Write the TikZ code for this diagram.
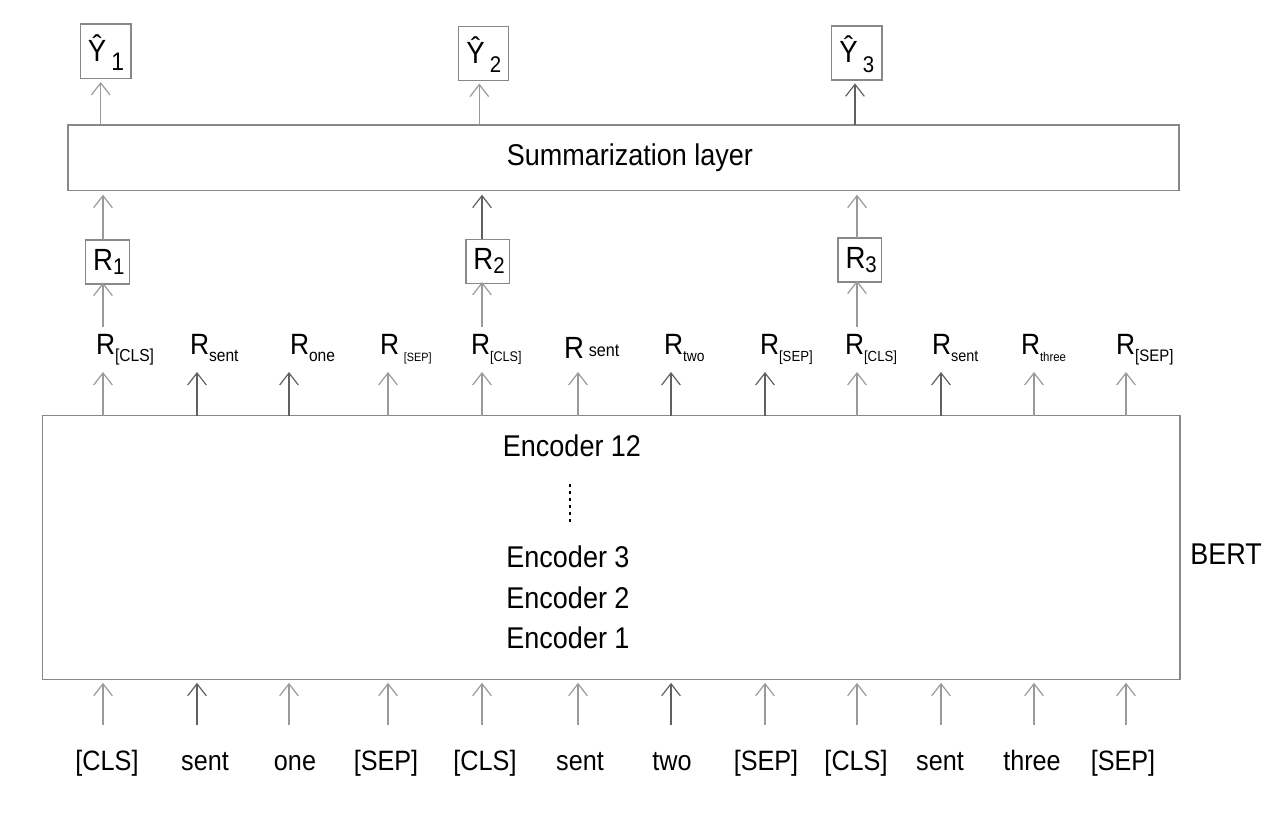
\documentclass[tikz,border=0pt]{standalone}
\usepackage{fontspec}
\setmainfont{Liberation Sans}[FakeStretch=0.9]
\usetikzlibrary{arrows.meta,fit}
\definecolor{lg}{HTML}{9A9A9A}
\definecolor{dg}{HTML}{606060}
\definecolor{bx}{HTML}{888888}
\newcommand\Sb[2]{\raisebox{-5.5pt}{\fontsize{#2}{#2}\selectfont #1}}
\begin{document}
\begin{tikzpicture}[x=0.75pt,y=-0.75pt,
  every node/.style={inner sep=0pt,outer sep=0pt,font=\fontsize{21}{24}\selectfont},
  box/.style={draw=bx,line width=1.1pt,fill=none},
  big/.style={font=\fontsize{22.5}{26}\selectfont},
  yt/.style={font=\fontsize{23}{26}\selectfont},
  arr/.style={draw=lg,line width=0.9pt,-{Straight Barb[length=9pt,width=14pt]}},
  arrd/.style={arr,draw=dg},
  rl/.style={anchor=base west,font=\fontsize{22}{24}\selectfont},
  tok/.style={anchor=base}]
\useasboundingbox (0,0) rectangle (1288,822);

% boxes
\node[box,fit={(68,125) (1179,190.7)}] (summ) {};
\node[big] (summt) at (630,158) {Summarization layer};
\node[box,fit={(42.3,415.7) (1180,679.5)}] (bert) {};
\node[box,fit={(80.7,24) (131,78.7)}] (y1) {};
\node[box,fit={(458.7,26.7) (508.7,80.3)}] (y2) {};
\node[box,fit={(831.7,26) (882,80)}] (y3) {};
\node[yt] (y1t) at ([yshift=-1pt]y1.center) {\^{Y}\,\raisebox{-7pt}{\fontsize{19}{19}\selectfont 1}};
\node[yt] (y2t) at ([yshift=-1pt]y2.center) {\^{Y}\,\raisebox{-7pt}{\fontsize{17}{17}\selectfont 2}};
\node[yt] (y3t) at ([yshift=-1pt]y3.center) {\^{Y}\,\raisebox{-7pt}{\fontsize{17}{17}\selectfont 3}};
\node[box,fit={(85.7,240) (129.3,284)}] (rb1) {};
\node[box,fit={(466,239.3) (509.3,283.3)}] (rb2) {};
\node[box,fit={(838,238) (881.7,282)}] (rb3) {};
\node[yt] (rb1t) at ([xshift=1pt]rb1.center) {R\raisebox{-3pt}{\fontsize{17}{17}\selectfont 1}};
\node[yt] (rb2t) at ([xshift=1pt]rb2.center) {R\raisebox{-3pt}{\fontsize{17}{17}\selectfont 2}};
\node[yt] (rb3t) at ([xshift=1pt]rb3.center) {R\raisebox{-3pt}{\fontsize{17}{17}\selectfont 3}};

% encoder stack
\node[big] (e12) at (572,446) {Encoder 12};
\coordinate (d1) at (570,484);
\coordinate (d2) at (570,526);
\draw[black,line width=2.2pt,dash pattern=on 2.2pt off 3.1pt] (d1) -- (d2);
\node[big] (e3) at (568,557) {Encoder 3};
\node[big] (e2) at (568,598) {Encoder 2};
\node[big] (e1) at (568,638) {Encoder 1};
\node[big] (bertlab) at (1226,554) {BERT};

% columns
\foreach \n/\x in {1/103,2/197,3/289,4/388,5/482,6/578,7/671,8/765,9/857,10/941,11/1034,12/1126}
  {\coordinate (c\n) at (\x,0);}

% tokens
\foreach \n/\x/\t in {1/107/{[CLS]},2/205/sent,3/295/one,4/386/{[SEP]},5/485/{[CLS]},6/580/sent,7/672/two,8/766/{[SEP]},9/856/{[CLS]},10/940/sent,11/1032/three,12/1123/{[SEP]}}
  {\node[tok] (t\n) at (\x,770) {\t};}

% token -> BERT arrows
\foreach \n in {1,3,4,5,6,8,9,10,11,12}
  {\draw[arr,shorten >=2.5pt] (c\n |- 0,725) -- (c\n |- bert.south);}
\foreach \n in {2,7}
  {\draw[arrd,shorten >=2.5pt] (c\n |- 0,725) -- (c\n |- bert.south);}

% R labels
\node[rl] (r1) at (96,354) {R\Sb{[CLS]}{13}};
\node[rl] (r2) at (190,354) {R\Sb{sent}{13}};
\node[rl] (r3) at (290,354) {R\Sb{one}{13}};
\node[rl] (r4) at (380,354) {R\,\Sb{[SEP]}{9}};
\node[rl] (r5) at (471,354) {R\Sb{[CLS]}{10.5}};
\node[rl] (r6) at (564,358) {{\fontsize{23}{24}\selectfont R}\,\raisebox{1pt}{\fontsize{13.5}{13}\selectfont sent}};
\node[rl] (r7) at (664,354) {R\Sb{two}{11.5}};
\node[rl] (r8) at (760,354) {R\Sb{[SEP]}{11}};
\node[rl] (r9) at (845,354) {R\Sb{[CLS]}{11}};
\node[rl] (r10) at (932,354) {R\Sb{sent}{12}};
\node[rl] (r11) at (1021,354) {R\Sb{three}{9.5}};
\node[rl] (r12) at (1116,354) {R\Sb{[SEP]}{12.5}};

% BERT -> labels arrows
\foreach \n in {1,4,5,6,9,11,12}
  {\draw[arr] (c\n |- bert.north) -- (c\n |- 0,372);}
\foreach \n in {2,3,7,8,10}
  {\draw[arrd] (c\n |- bert.north) -- (c\n |- 0,372);}

% labels -> R boxes
\draw[arr,shorten >=-1pt] (c1 |- 0,327) -- (c1 |- rb1.south);
\draw[arr,shorten >=-1pt] (c5 |- 0,327) -- (c5 |- rb2.south);
\draw[arr,shorten >=-1pt] (c9 |- 0,327) -- (c9 |- rb3.south);

% R boxes -> summarization
\draw[arr,shorten >=3pt] (c1 |- rb1.north) -- (c1 |- summ.south);
\draw[arrd,shorten >=3pt] (c5 |- rb2.north) -- (c5 |- summ.south);
\draw[arr,shorten >=3pt] (c9 |- rb3.north) -- (c9 |- summ.south);

% summarization -> Y
\coordinate (s1) at (100.7,0);
\coordinate (s2) at (479.3,0);
\coordinate (s3) at (855,0);
\draw[arr,shorten >=2.5pt] (s1 |- summ.north) -- (s1 |- y1.south);
\draw[arr,shorten >=2.5pt] (s2 |- summ.north) -- (s2 |- y2.south);
\draw[arrd,shorten >=2.5pt] (s3 |- summ.north) -- (s3 |- y3.south);
\end{tikzpicture}
\end{document}
